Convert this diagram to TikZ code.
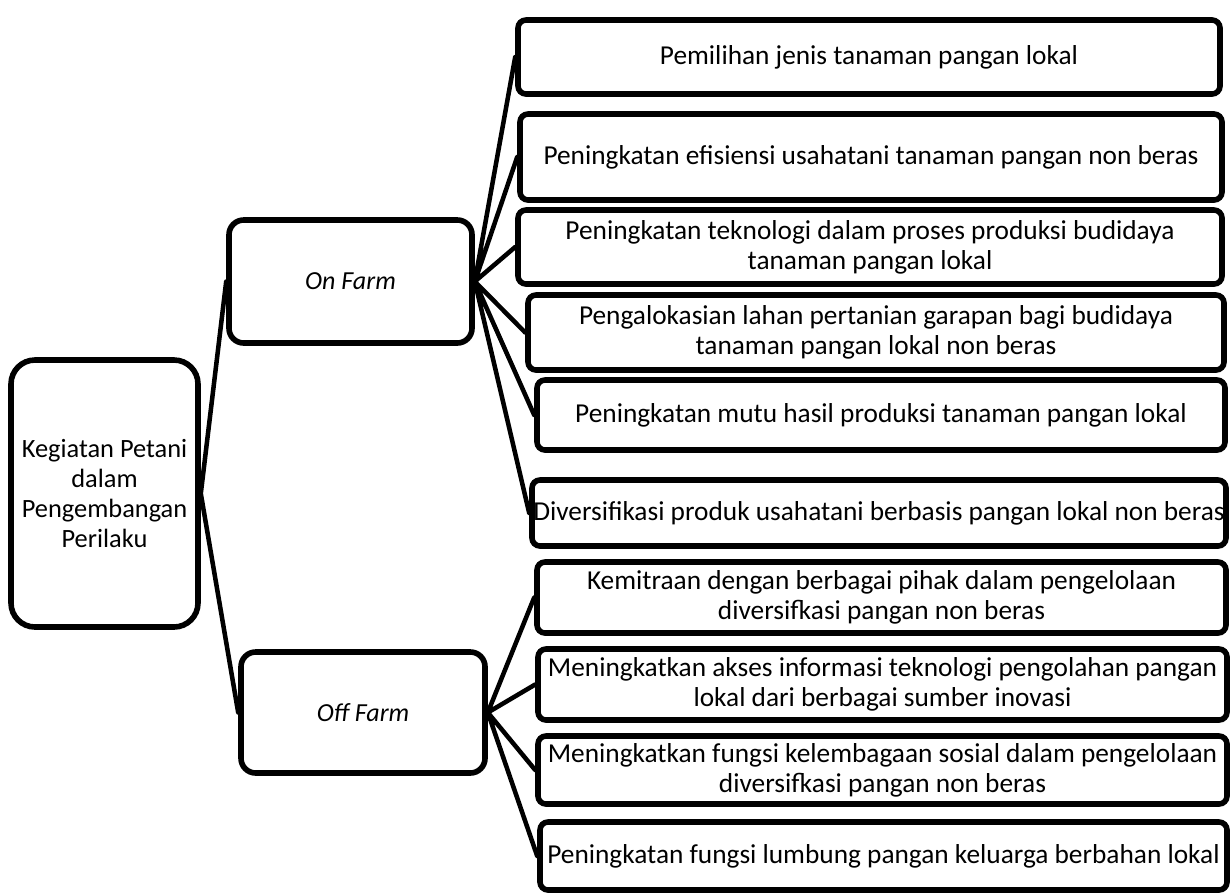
\documentclass[tikz,border=0pt]{standalone}
\usepackage{fontspec}
\setmainfont{Carlito}
\tikzset{
  itembox/.style={draw=black,line width=4.2pt,rounded corners=6pt,inner sep=0pt,
    align=center,font=\fontsize{20.5}{22.5}\selectfont},
  rootbox/.style={itembox,rounded corners=18pt,font=\fontsize{19.8}{22.5}\selectfont},
  farmbox/.style={itembox,rounded corners=11pt,font=\fontsize{19.5}{22.5}\selectfont\itshape},
  link/.style={draw=black,line width=3.4pt,line cap=round}
}

\begin{document}
\begin{tikzpicture}[x=0.75pt,y=-0.75pt]
\useasboundingbox (0,0) rectangle (1230,894);

\node[rootbox,minimum width=140.25pt,minimum height=200.25pt] (root) at (104.5,493.5)
  {Kegiatan Petani\\dalam\\Pengembangan\\Perilaku};

\node[farmbox,minimum width=182.25pt,minimum height=92.25pt] (on) at (350.5,281.5) {On Farm};
\node[farmbox,minimum width=183pt,minimum height=90.75pt] (off) at (363,712.5) {Off Farm};

\node[itembox,minimum width=526.5pt,minimum height=55.5pt] (b1) at (869,57)
  {Pemilihan jenis tanaman pangan lokal};
\node[itembox,minimum width=526.5pt,minimum height=64.5pt] (b2) at (871,157)
  {Peningkatan efisiensi usahatani tanaman pangan non beras};
\node[itembox,minimum width=528pt,minimum height=55.5pt] (b3) at (870,247)
  {Peningkatan teknologi dalam proses produksi budidaya\\tanaman pangan lokal};
\node[itembox,minimum width=522pt,minimum height=56.25pt] (b4) at (876,332.5)
  {Pengalokasian lahan pertanian garapan bagi budidaya\\tanaman pangan lokal non beras};
\node[itembox,minimum width=516pt,minimum height=52.5pt] (b5) at (881,415)
  {Peningkatan mutu hasil produksi tanaman pangan lokal};
\node[itembox,minimum width=520.5pt,minimum height=49.5pt] (b6) at (879,513)
  {Diversifikasi produk usahatani berbasis pangan lokal non beras};

\node[itembox,minimum width=516.75pt,minimum height=53.25pt] (c1) at (881.5,597.5)
  {Kemitraan dengan berbagai pihak dalam pengelolaan\\diversifkasi pangan non beras};
\node[itembox,minimum width=516.75pt,minimum height=53.25pt] (c2) at (882.5,684.5)
  {Meningkatkan akses informasi teknologi pengolahan pangan\\lokal dari berbagai sumber inovasi};
\node[itembox,minimum width=516.75pt,minimum height=51pt] (c3) at (882.5,770)
  {Meningkatkan fungsi kelembagaan sosial dalam pengelolaan\\diversifkasi pangan non beras};
\node[itembox,minimum width=515.25pt,minimum height=51pt] (c4) at (883.5,856)
  {Peningkatan fungsi lumbung pangan keluarga berbahan lokal};

\draw[link] (root.east) -- (on.west) (root.east) -- (off.west);

\draw[link] (on.east) -- (b1.west) (on.east) -- (b2.west) (on.east) -- (b3.west)
  (on.east) -- (b4.west) (on.east) -- (b5.west) (on.east) -- (b6.west);

\draw[link] (off.east) -- (c1.west) (off.east) -- (c2.west) (off.east) -- (c3.west)
  (off.east) -- (c4.west);

\end{tikzpicture}
\end{document}
